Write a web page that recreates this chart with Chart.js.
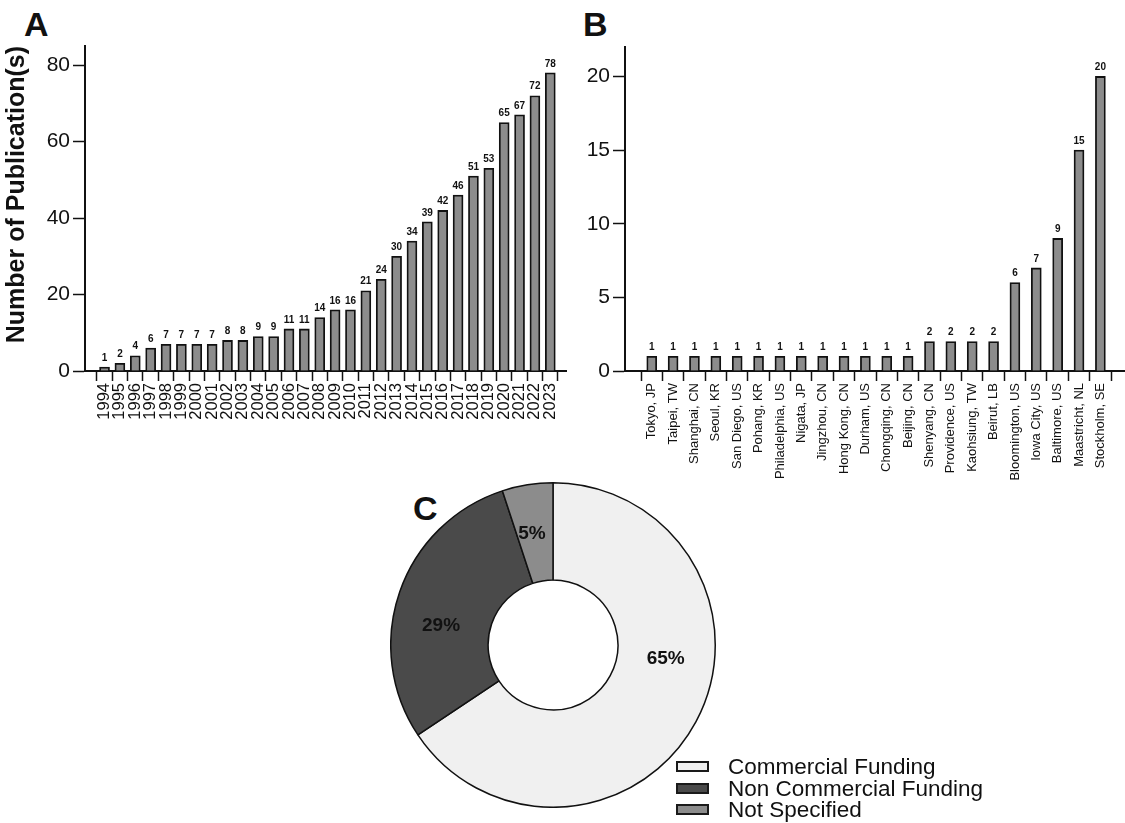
<!DOCTYPE html>
<html>
<head>
<meta charset="utf-8">
<script src="https://cdn.jsdelivr.net/npm/chart.js@4.4.1/dist/chart.umd.min.js"></script>
<style>
	html, body { margin: 0; padding: 0; background: #fff; }
	body { width: 1125px; height: 823px; position: relative; overflow: hidden; font-family: "Liberation Sans", Arial, sans-serif; color: #111; }
	canvas { position: absolute; }
	.panel { position: absolute; font-weight: bold; font-size: 34px; line-height: 34px; }
	.legend { position: absolute; left: 676px; top: 756px; }
	.legend .row { position: relative; height: 21.7px; }
	.legend .swatch { position: absolute; left: 0; top: 5px; width: 33px; height: 11px; box-sizing: border-box; border: 2px solid #1a1a1a; }
	.legend .txt { position: absolute; left: 52px; top: 0; font-size: 22.5px; line-height: 21.7px; white-space: nowrap; }
</style>
</head>
<body>
<div class="panel" style="left:24px;top:7px">A</div>
<div class="panel" style="left:583px;top:7px">B</div>
<div class="panel" style="left:413px;top:491px">C</div>

<canvas id="chartA" width="575" height="460" style="left:0;top:0"></canvas>
<canvas id="chartB" width="555" height="480" style="left:570px;top:0"></canvas>
<canvas id="chartC" width="326" height="326" style="left:390px;top:482px"></canvas>
<div class="legend" id="legendC"></div>

<script>
	// panel A: publications per year
	const years = ['1994', '1995', '1996', '1997', '1998', '1999', '2000', '2001', '2002', '2003',
		'2004', '2005', '2006', '2007', '2008', '2009', '2010', '2011', '2012', '2013',
		'2014', '2015', '2016', '2017', '2018', '2019', '2020', '2021', '2022', '2023'];
	const pubCounts = [1, 2, 4, 6, 7, 7, 7, 7, 8, 8, 9, 9, 11, 11, 14, 16, 16, 21, 24, 30,
		34, 39, 42, 46, 51, 53, 65, 67, 72, 78];

	// panel B: publications per city
	const cities = ['Tokyo, JP', 'Taipei, TW', 'Shanghai, CN', 'Seoul, KR', 'San Diego, US', 'Pohang, KR',
		'Philadelphia, US', 'Nigata, JP', 'Jingzhou, CN', 'Hong Kong, CN', 'Durham, US', 'Chongqing, CN',
		'Beijing, CN', 'Shenyang, CN', 'Providence, US', 'Kaohsiung, TW', 'Beirut, LB', 'Bloomington, US',
		'Iowa City, US', 'Baltimore, US', 'Maastricht, NL', 'Stockholm, SE'];
	const cityCounts = [1, 1, 1, 1, 1, 1, 1, 1, 1, 1, 1, 1, 1, 2, 2, 2, 2, 6, 7, 9, 15, 20];

	// panel C: funding source shares (%)
	const fundingLabels = ['Commercial Funding', 'Non Commercial Funding', 'Not Specified'];
	const fundingShares = [65, 29, 5];
	const fundingColors = ['#f0f0f0', '#4a4a4a', '#8c8c8c'];

	const FONT = '"Liberation Sans", Arial, sans-serif';
	const INK = '#111';

	const valueLabels = {
		id: 'valueLabels',
		afterDatasetsDraw(chart) {
			const ctx = chart.ctx;
			const ds = chart.data.datasets[0];
			ctx.save();
			ctx.font = 'bold 10px ' + FONT;
			ctx.fillStyle = INK;
			ctx.textAlign = 'center';
			ctx.textBaseline = 'bottom';
			chart.getDatasetMeta(0).data.forEach((bar, i) => {
				ctx.fillText(String(ds.data[i].y), bar.x, bar.y - 4);
			});
			ctx.restore();
		}
	};

	function barChart(id, labels, values, cfg) {
		const ctx = document.getElementById(id).getContext('2d');
		return new Chart(ctx, {
			type: 'bar',
			data: {
				datasets: [{
					data: values.map((v, i) => ({ x: i, y: v })),
					backgroundColor: '#8c8c8c',
					borderColor: INK,
					borderWidth: 1.8,
					barThickness: 10,
				}]
			},
			plugins: [valueLabels],
			options: {
				responsive: false,
				animation: false,
				events: [],
				layout: { padding: { top: cfg.padTop, right: cfg.padRight, left: 0, bottom: 0 } },
				plugins: { legend: { display: false }, tooltip: { enabled: false } },
				scales: {
					x: {
						type: 'linear',
						min: cfg.xMin,
						max: cfg.xMax,
						afterBuildTicks: (scale) => { scale.ticks = labels.map((_, i) => ({ value: i })); },
						afterFit: (scale) => { scale.height = cfg.xHeight; },
						ticks: {
							autoSkip: false, minRotation: 90, maxRotation: 90, padding: 2,
							font: { size: cfg.xFont, family: FONT }, color: INK,
							callback: (v) => labels[v],
						},
						grid: { drawOnChartArea: false, tickLength: 10, tickWidth: 1.5, tickColor: INK },
						border: { display: true, color: INK, width: 2 },
					},
					y: {
						min: 0,
						max: cfg.yMax,
						afterFit: (scale) => { scale.width = cfg.yWidth; },
						ticks: {
							stepSize: cfg.yStep, includeBounds: false, padding: 3,
							font: { size: 21, family: FONT }, color: INK,
						},
						grid: { drawOnChartArea: false, tickLength: 12, tickWidth: 1.5, tickColor: INK },
						border: { display: true, color: INK, width: 2 },
						title: cfg.yTitle ? {
							display: true, text: cfg.yTitle, align: 'end', color: INK,
							font: { size: 25, weight: 'bold', family: FONT },
							padding: { top: 2, bottom: 0 },
						} : { display: false },
					},
				},
			},
		});
	}

	barChart('chartA', years, pubCounts, {
		xMin: -0.75, xMax: 29.5, xHeight: 89, xFont: 16.5,
		yMax: 85, yStep: 20, yWidth: 85, padTop: 46, padRight: 9,
		yTitle: 'Number of Publication(s)',
	});

	barChart('chartB', cities, cityCounts, {
		xMin: -0.72, xMax: 21.62, xHeight: 109, xFont: 13,
		yMax: 22, yStep: 5, yWidth: 55, padTop: 47, padRight: 0,
	});

	// percentage labels sit a bit before the middle of each slice
	const sliceLabels = {
		id: 'sliceLabels',
		afterDatasetsDraw(chart) {
			const ctx = chart.ctx;
			const vals = chart.data.datasets[0].data;
			ctx.save();
			ctx.font = 'bold 19px ' + FONT;
			ctx.fillStyle = INK;
			ctx.textAlign = 'center';
			ctx.textBaseline = 'middle';
			chart.getDatasetMeta(0).data.forEach((arc, i) => {
				const p = arc.getProps(['x', 'y', 'startAngle', 'endAngle', 'innerRadius', 'outerRadius']);
				const a = p.startAngle + 0.41 * (p.endAngle - p.startAngle);
				const r = (p.innerRadius + p.outerRadius) / 2;
				ctx.fillText(vals[i] + '%', p.x + r * Math.cos(a), p.y + r * Math.sin(a));
			});
			ctx.restore();
		}
	};

	new Chart(document.getElementById('chartC').getContext('2d'), {
		type: 'doughnut',
		data: {
			labels: fundingLabels,
			datasets: [{
				data: fundingShares,
				backgroundColor: fundingColors,
				borderColor: INK,
				borderWidth: 1.5,
			}]
		},
		plugins: [sliceLabels],
		options: {
			responsive: false,
			animation: false,
			events: [],
			cutout: '40%',
			layout: { padding: 0 },
			plugins: { legend: { display: false }, tooltip: { enabled: false } },
		},
	});

	// legend for panel C
	const legendEl = document.getElementById('legendC');
	fundingLabels.forEach((name, i) => {
		const row = document.createElement('div');
		row.className = 'row';
		row.innerHTML = '<div class="swatch" style="background:' + fundingColors[i] + '"></div><div class="txt">' + name + '</div>';
		legendEl.appendChild(row);
	});
</script>
</body>
</html>
